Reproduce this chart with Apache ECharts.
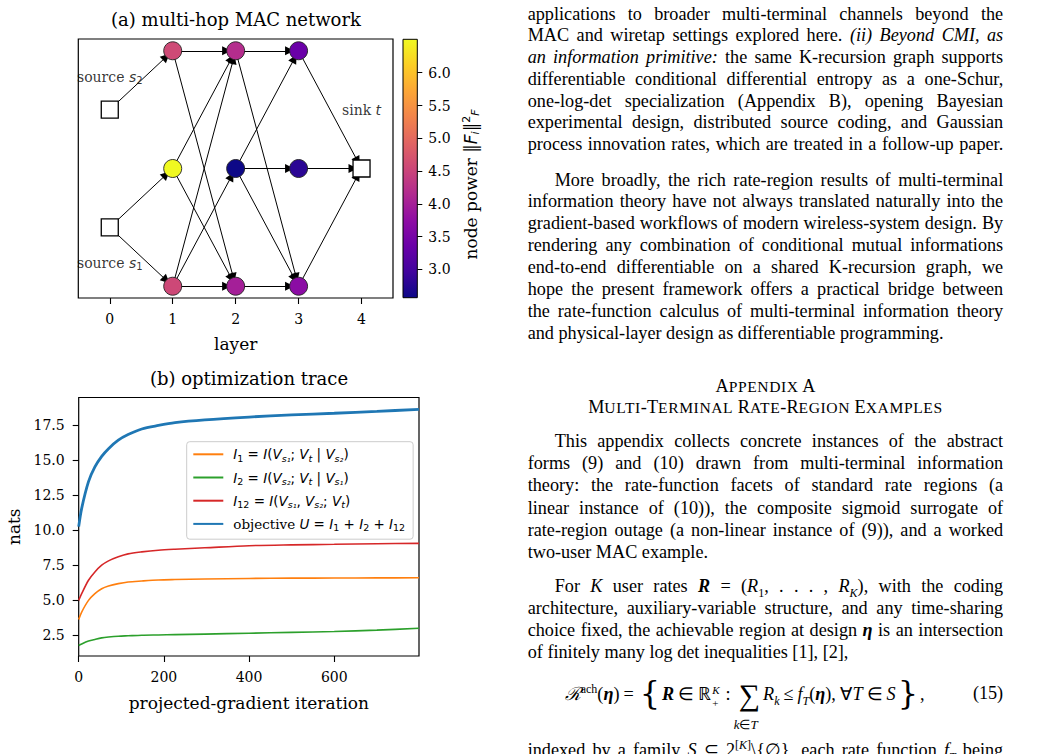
<!DOCTYPE html>
<html><head><meta charset="utf-8">
<script src="https://cdn.jsdelivr.net/npm/echarts@6/dist/echarts.min.js"></script>
<style>
html,body{margin:0;padding:0;background:#fff;width:1043px;height:754px;overflow:hidden;}
#chart{position:absolute;left:0;top:0;width:1043px;height:754px;}
#text{position:absolute;left:527.7px;top:2px;width:475.5px;height:754px;font-family:"Liberation Serif","Times New Roman",serif;font-size:18.2px;color:#000;}
.ln{position:absolute;left:0;width:475.5px;height:21.8px;line-height:21.8px;text-align:justify;text-align-last:justify;}
.last{text-align-last:left;}
.ind{text-indent:27px;}
.hd{text-align:center;text-align-last:center;}
.s{font-size:15.6px;text-transform:uppercase;letter-spacing:0.6px;}
sub,sup{font-size:12px;line-height:0;}
.rel{padding:0 4px;}
.brace{font-size:32px;vertical-align:-4px;font-family:"DejaVu Serif";font-weight:200;padding:0 2px;}
.sum{position:relative;display:inline-block;font-size:30px;vertical-align:-5px;padding:0 3px;}
.under{position:absolute;left:-2px;top:30px;font-size:13px;white-space:nowrap;}
.ss{display:inline-block;vertical-align:-7px;line-height:13px;font-size:11px;margin:0 3px 0 1px;}
.ss span{display:block;height:13px;}
.colon{padding:0 5px 0 3px;}
</style></head>
<body>
<div id="chart"></div>
<div id="text">
  <div class="ln" style="top:1.5px">applications to broader multi-terminal channels beyond the</div>
  <div class="ln" style="top:23.3px">MAC and wiretap settings explored here. <i>(ii) Beyond CMI, as</i></div>
  <div class="ln" style="top:45.0px"><i>an information primitive:</i> the same K-recursion graph supports</div>
  <div class="ln" style="top:66.8px">differentiable conditional differential entropy as a one-Schur,</div>
  <div class="ln" style="top:88.6px">one-log-det specialization (Appendix B), opening Bayesian</div>
  <div class="ln" style="top:110.4px">experimental design, distributed source coding, and Gaussian</div>
  <div class="ln" style="top:132.1px">process innovation rates, which are treated in a follow-up paper.</div>

  <div class="ln ind" style="top:167.5px">More broadly, the rich rate-region results of multi-terminal</div>
  <div class="ln" style="top:189.4px">information theory have not always translated naturally into the</div>
  <div class="ln" style="top:211.3px">gradient-based workflows of modern wireless-system design. By</div>
  <div class="ln" style="top:233.2px">rendering any combination of conditional mutual informations</div>
  <div class="ln" style="top:255.1px">end-to-end differentiable on a shared K-recursion graph, we</div>
  <div class="ln" style="top:277.0px">hope the present framework offers a practical bridge between</div>
  <div class="ln" style="top:298.9px">the rate-function calculus of multi-terminal information theory</div>
  <div class="ln last" style="top:320.8px">and physical-layer design as differentiable programming.</div>

  <div class="ln hd" style="top:373.5px">A<span class="s">ppendix</span> A</div>
  <div class="ln hd" style="top:394.8px">M<span class="s">ulti</span>-T<span class="s">erminal</span> R<span class="s">ate</span>-R<span class="s">egion</span> E<span class="s">xamples</span></div>

  <div class="ln ind" style="top:429.2px">This appendix collects concrete instances of the abstract</div>
  <div class="ln" style="top:451.3px">forms (9) and (10) drawn from multi-terminal information</div>
  <div class="ln" style="top:473.4px">theory: the rate-function facets of standard rate regions (a</div>
  <div class="ln" style="top:495.6px">linear instance of (10)), the composite sigmoid surrogate of</div>
  <div class="ln" style="top:517.7px">rate-region outage (a non-linear instance of (9)), and a worked</div>
  <div class="ln last" style="top:539.8px">two-user MAC example.</div>

  <div class="ln ind" style="top:574.2px">For <i>K</i> user rates <b><i>R</i></b> = (<i>R</i><sub>1</sub>, . . . , <i>R<sub>K</sub></i>), with the coding</div>
  <div class="ln" style="top:596.2px">architecture, auxiliary-variable structure, and any time-sharing</div>
  <div class="ln" style="top:618.2px">choice fixed, the achievable region at design <b><i>η</i></b> is an intersection</div>
  <div class="ln last" style="top:640.2px">of finitely many log det inequalities [1], [2],</div>

  <div style="position:absolute;left:0;top:678px;width:475.5px;height:50px;">
    <div style="position:absolute;left:37px;top:0;white-space:nowrap;line-height:26px;"><i style="font-family:'DejaVu Serif'">ℛ</i><sup>ach</sup>(<b><i>η</i></b>)<span class="rel">=</span><span class="brace">{</span><b><i>R</i></b><span class="rel">∈</span>ℝ<span class="ss"><span><i>K</i></span><span>+</span></span><span class="colon">:</span><span class="sum">∑<span class="under"><i>k</i>∈<i>T</i></span></span><i>R<sub>k</sub></i><span class="rel">≤</span><i>f<sub>T</sub></i>(<b><i>η</i></b>), ∀<i>T</i><span class="rel">∈</span><i>S</i><span class="brace">}</span>,</div>
    <div style="position:absolute;right:0;top:0;line-height:26px;">(15)</div>
  </div>

  <div class="ln" style="top:737.5px">indexed by a family <i>S</i> ⊆ 2<sup>[<i>K</i>]</sup>\{∅}, each rate function <i>f<sub>T</sub></i> being</div>
</div>
<script>
// ---------------- data: (a) multi-hop MAC network ----------------
const nodeIds    = ['s1', 's2', 't', 'a1', 'b1', 'c1', 'a2', 'b2', 'c2', 'a3', 'b3', 'c3'];
const nodeLayer  = [0, 0, 4, 1, 1, 1, 2, 2, 2, 3, 3, 3];
const nodeRow    = [-0.5, 0.5, 0, 1, 0, -1, 1, 0, -1, 1, 0, -1];
const nodePower  = [null, null, null, 4.58, 6.51, 4.55, 4.19, 2.57, 3.99, 3.36, 2.80, 3.71];
const edgeFrom   = ['s2', 's1', 's1', 'a1', 'a1', 'b1', 'b1', 'c1', 'c1', 'c1', 'a2', 'a2', 'b2', 'b2', 'b2', 'c2', 'a3', 'b3', 'c3'];
const edgeTo     = ['a1', 'b1', 'c1', 'a2', 'c2', 'a2', 'c2', 'a2', 'b2', 'c2', 'a3', 'c3', 'a3', 'b3', 'c3', 'c3', 't', 't', 't'];
const layerTicks = [0, 1, 2, 3, 4];
const powerTicks = [3.0, 3.5, 4.0, 4.5, 5.0, 5.5, 6.0];
const annText    = ['source {m|s}{b|2}', 'source {m|s}{b|1}', 'sink {m|t}'];
const annX       = [0, 0, 4];
const annY       = [0.78, -0.80, 0.5];

// ---------------- data: (b) optimization trace ----------------
const iterations = [0, 7, 23, 38, 54, 70, 93, 116, 148, 187, 226, 296, 400, 500, 600, 700, 799];
const I1  = [3.64, 4.17, 5.00, 5.48, 5.83, 6.02, 6.19, 6.31, 6.38, 6.45, 6.48, 6.52, 6.56, 6.58, 6.59, 6.60, 6.61];
const I2  = [1.79, 1.90, 2.10, 2.22, 2.33, 2.39, 2.45, 2.48, 2.52, 2.54, 2.56, 2.60, 2.66, 2.72, 2.78, 2.88, 3.01];
const I12 = [5.00, 5.48, 6.43, 7.02, 7.50, 7.81, 8.10, 8.31, 8.45, 8.57, 8.64, 8.74, 8.89, 8.95, 8.99, 9.03, 9.06];
const U   = [10.25, 11.55, 13.45, 14.50, 15.25, 15.80, 16.40, 16.80, 17.20, 17.45, 17.65, 17.85, 18.05, 18.20, 18.32, 18.45, 18.60];
const iterTicks = [0, 200, 400, 600];
const natsTicks = [2.5, 5.0, 7.5, 10.0, 12.5, 15.0, 17.5];

// ---------------- helpers ----------------
const plasmaStops = ['#0d0887', '#41049d', '#6a00a8', '#8f0da4', '#b12a90', '#cc4778', '#e16462', '#f2844b', '#fca636', '#fcce25', '#f0f921'];
function hex2rgb(h) { return [parseInt(h.slice(1, 3), 16), parseInt(h.slice(3, 5), 16), parseInt(h.slice(5, 7), 16)]; }
function plasma(t) {
  t = Math.max(0, Math.min(1, t));
  const p = t * (plasmaStops.length - 1), i = Math.min(Math.floor(p), plasmaStops.length - 2), f = p - i;
  const a = hex2rgb(plasmaStops[i]), b = hex2rgb(plasmaStops[i + 1]);
  return 'rgb(' + a.map((v, k) => Math.round(v + (b[k] - v) * f)).join(',') + ')';
}
const powers = nodePower.filter(v => v !== null);
const vmin = Math.min(...powers), vmax = Math.max(...powers);

const serif = 'DejaVu Serif', sans = 'DejaVu Sans';
const tickLab = { color: '#000', fontFamily: serif, fontSize: 14 };

const graphNodes = nodeIds.map((id, i) => {
  const isTerm = nodePower[i] === null;
  return {
    name: id, value: [nodeLayer[i], nodeRow[i]],
    symbol: isTerm ? 'rect' : 'circle', symbolSize: isTerm ? 17 : 18,
    itemStyle: isTerm ? { color: '#fff', borderColor: '#000', borderWidth: 1.3 }
                      : { color: plasma((nodePower[i] - vmin) / (vmax - vmin)), borderColor: '#222', borderWidth: 0.9 }
  };
});
const graphLinks = edgeFrom.map((s, i) => ({ source: s, target: edgeTo[i] }));

const legendNames = ['I1', 'I2', 'I12', 'U'];
const legendText = {
  I1:  '{g| }{i|I}{b|1}{r| = }{i|I}{r|(}{i|V}{bi|s₁}{r|; }{i|V}{bi|t}{r| | }{i|V}{bi|s₂}{r|)}',
  I2:  '{g| }{i|I}{b|2}{r| = }{i|I}{r|(}{i|V}{bi|s₂}{r|; }{i|V}{bi|t}{r| | }{i|V}{bi|s₁}{r|)}',
  I12: '{g| }{i|I}{b|12}{r| = }{i|I}{r|(}{i|V}{bi|s₁}{r|, }{i|V}{bi|s₂}{r|; }{i|V}{bi|t}{r|)}',
  U:   '{g| }{o|objective }{i|U}{r| = }{i|I}{b|1}{r| + }{i|I}{b|2}{r| + }{i|I}{b|12}'
};
const seriesColors = { I1: '#ff7f0e', I2: '#2ca02c', I12: '#d62728', U: '#1f77b4' };
const seriesVals = { I1: I1, I2: I2, I12: I12, U: U };

const colorbarFill = new echarts.graphic.LinearGradient(0, 1, 0, 0,
  plasmaStops.map((c, i) => ({ offset: i / (plasmaStops.length - 1), color: c })));

const chart = echarts.init(document.getElementById('chart'), null, { renderer: 'svg', width: 1043, height: 754 });

const option = {
  animation: false,
  backgroundColor: '#fff',
  title: [
    { text: '(a) multi-hop MAC network', left: 236, top: 10, textAlign: 'center', padding: 0,
      textStyle: { fontFamily: serif, fontSize: 18, fontWeight: 'normal', color: '#000' } },
    { text: '(b) optimization trace', left: 249, top: 369, textAlign: 'center', padding: 0,
      textStyle: { fontFamily: serif, fontSize: 18, fontWeight: 'normal', color: '#000' } }
  ],
  grid: [
    { left: 78.3, top: 39, width: 314.7, height: 259, show: true, borderColor: '#000', borderWidth: 1.2, backgroundColor: 'transparent' },
    { left: 403, top: 39.3, width: 14.3, height: 258.4, show: true, borderColor: '#000', borderWidth: 1, backgroundColor: colorbarFill },
    { left: 78.7, top: 397.5, width: 340.3, height: 258.5, show: true, borderColor: '#000', borderWidth: 1.2, backgroundColor: 'transparent' }
  ],
  xAxis: [
    { gridIndex: 0, type: 'value', min: -0.5, max: 4.5, splitLine: { show: false }, axisLine: { show: false, onZero: false },
      axisTick: { show: true, length: 6, lineStyle: { color: '#000', width: 1.1 }, customValues: layerTicks },
      axisLabel: Object.assign({ margin: 14, customValues: layerTicks }, tickLab),
      name: 'layer', nameLocation: 'middle', nameGap: 37, nameTextStyle: { fontFamily: serif, fontSize: 17, color: '#000' } },
    { gridIndex: 1, type: 'value', min: 0, max: 1, show: false, axisLine: { onZero: false } },
    { gridIndex: 2, type: 'value', min: 0, max: 799, splitLine: { show: false }, axisLine: { show: false, onZero: false },
      axisTick: { show: true, length: 6, lineStyle: { color: '#000', width: 1.1 }, customValues: iterTicks },
      axisLabel: Object.assign({ margin: 14, customValues: iterTicks }, tickLab),
      name: 'projected-gradient iteration', nameLocation: 'middle', nameGap: 38, nameTextStyle: { fontFamily: serif, fontSize: 17, color: '#000' } }
  ],
  yAxis: [
    { gridIndex: 0, type: 'value', min: -1.1, max: 1.1, show: false, splitLine: { show: false }, axisLine: { show: false, onZero: false }, axisTick: { show: false }, axisLabel: { show: false } },
    { gridIndex: 1, type: 'value', position: 'right', min: vmin, max: vmax, splitLine: { show: false }, axisLine: { show: false, onZero: false },
      axisTick: { show: true, length: 5, lineStyle: { color: '#000', width: 1 }, customValues: powerTicks },
      axisLabel: Object.assign({ margin: 11, customValues: powerTicks, formatter: v => v.toFixed(1) }, tickLab),
      name: '{n|node power }{d|‖}{mi|F}{ms|i}{d|‖}{sp|2}{ms|F}', nameLocation: 'middle', nameRotate: 90, nameGap: 44,
      nameTextStyle: { fontFamily: serif, fontSize: 17, color: '#000', padding: [0, 32, 0, 0],
        rich: {
          n: { fontFamily: serif, fontSize: 17, color: '#000', lineHeight: 20 },
          d: { fontFamily: sans, fontSize: 17, color: '#000', lineHeight: 20 },
          mi: { fontFamily: sans, fontStyle: 'italic', fontSize: 17, color: '#000', lineHeight: 20 },
          ms: { fontFamily: sans, fontStyle: 'italic', fontSize: 11, color: '#000', lineHeight: 9, verticalAlign: 'bottom' },
          sp: { fontFamily: sans, fontSize: 11, color: '#000', lineHeight: 9, verticalAlign: 'top' }
        } } },
    { gridIndex: 2, type: 'value', min: 1.04, max: 19.44, splitLine: { show: false }, axisLine: { show: false, onZero: false },
      axisTick: { show: true, length: 6, lineStyle: { color: '#000', width: 1.1 }, customValues: natsTicks },
      axisLabel: Object.assign({ margin: 14, customValues: natsTicks, formatter: v => v.toFixed(1) }, tickLab),
      name: 'nats', nameLocation: 'middle', nameRotate: 90, nameGap: 56, nameTextStyle: { fontFamily: serif, fontSize: 17, color: '#000' } }
  ],
  legend: {
    data: legendNames, orient: 'vertical', left: 186.7, top: 441.7,
    itemWidth: 30, itemHeight: 18, itemGap: 5.2, padding: [3.6, 8, 6.3, 5.6],
    backgroundColor: 'rgba(255,255,255,0.8)', borderColor: '#cccccc', borderWidth: 1, borderRadius: 3,
    selectedMode: false,
    itemStyle: { opacity: 0, borderWidth: 0 },
    formatter: n => legendText[n],
    textStyle: { fontFamily: sans, fontSize: 13.5, color: '#000', lineHeight: 18,
      rich: {
        g: { width: 5, lineHeight: 18 },
        r: { fontFamily: sans, fontSize: 13.5, color: '#000', lineHeight: 18 },
        o: { fontFamily: serif, fontSize: 13.5, color: '#000', lineHeight: 18 },
        i: { fontFamily: sans, fontStyle: 'italic', fontSize: 13.5, color: '#000', lineHeight: 18 },
        b: { fontFamily: sans, fontSize: 9.5, color: '#000', lineHeight: 9, verticalAlign: 'bottom' },
        bi: { fontFamily: sans, fontStyle: 'italic', fontSize: 9.5, color: '#000', lineHeight: 9, verticalAlign: 'bottom' }
      } }
  },
  series: [
    { type: 'graph', layout: 'none', coordinateSystem: 'cartesian2d', xAxisIndex: 0, yAxisIndex: 0,
      data: graphNodes, links: graphLinks, edgeSymbol: ['none', 'triangle'], edgeSymbolSize: 9,
      lineStyle: { color: '#000', width: 1, opacity: 1, curveness: 0 }, label: { show: false }, silent: true, z: 3 },
    { type: 'scatter', xAxisIndex: 0, yAxisIndex: 0, symbol: 'circle', symbolSize: 1, silent: true, z: 4,
      itemStyle: { color: 'rgba(0,0,0,0)' },
      data: annText.map((t, i) => ({ value: [annX[i], annY[i]], label: { formatter: t } })),
      label: { show: true, position: 'inside', fontFamily: serif, fontSize: 14, color: '#000',
        rich: {
          m: { fontFamily: sans, fontStyle: 'italic', fontSize: 14, color: '#000', lineHeight: 18 },
          b: { fontFamily: sans, fontSize: 10, color: '#000', lineHeight: 9, verticalAlign: 'bottom' }
        } } }
  ].concat(legendNames.map(n => ({
    type: 'line', name: n, xAxisIndex: 2, yAxisIndex: 2, showSymbol: false, symbol: 'none', smooth: 0.3, silent: true,
    data: iterations.map((x, i) => [x, seriesVals[n][i]]),
    lineStyle: { color: seriesColors[n], width: n === 'U' ? 2.8 : 1.6 }, itemStyle: { color: seriesColors[n] }
  })))
};
chart.setOption(option);
</script>
</body></html>
